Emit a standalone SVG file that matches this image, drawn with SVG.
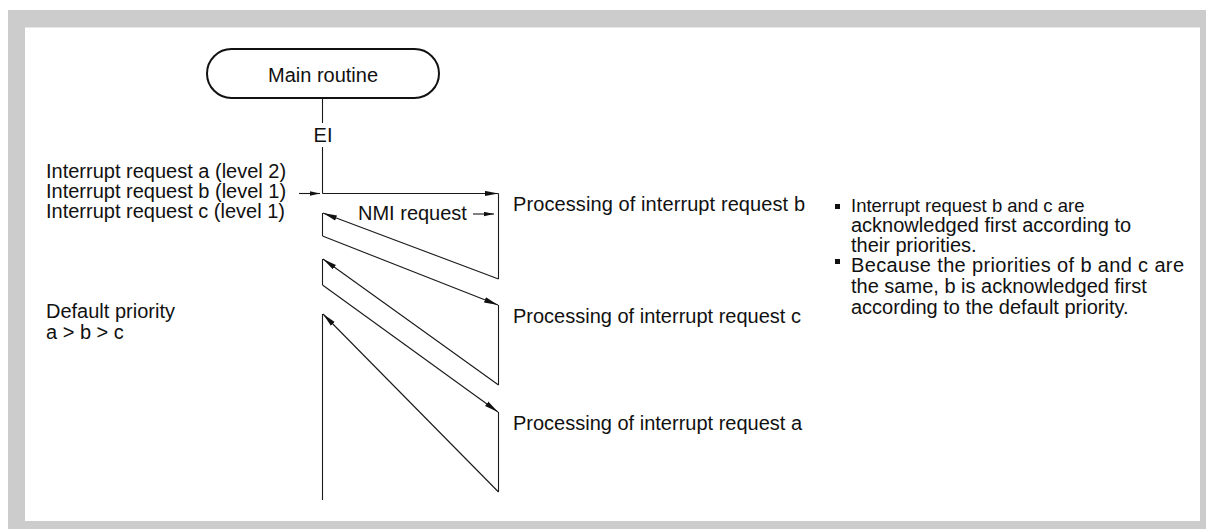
<svg xmlns="http://www.w3.org/2000/svg" width="1206" height="529" viewBox="0 0 1206 529">
<style>
text{font-family:"Liberation Sans",Arial,Helvetica,sans-serif;font-size:20px;fill:#111}
.ln{stroke:#1a1a1a;stroke-width:1.1;fill:none}
.ar{marker-end:url(#ah)}
.sa{marker-end:url(#sh)}
</style>
<defs>
<marker id="ah" markerUnits="userSpaceOnUse" viewBox="0 0 14 6" refX="14" refY="3" markerWidth="14" markerHeight="6" orient="auto"><path d="M0,0.3 L14,3 L0,5.7 Z" fill="#111"/></marker>
<marker id="sh" markerUnits="userSpaceOnUse" viewBox="0 0 10 5" refX="10" refY="2.5" markerWidth="10" markerHeight="5" orient="auto"><path d="M0,0.3 L10,2.5 L0,4.7 Z" fill="#111"/></marker>
</defs>
<rect x="8" y="10" width="1198" height="519" fill="#cccccc"/>
<rect x="25" y="27.5" width="1175" height="493.5" fill="#ffffff"/>
<g id="main-routine">
<rect x="207" y="49" width="232" height="49" rx="24.5" ry="24.5" fill="#fff" stroke="#111" stroke-width="2"/>
<text x="323" y="82" text-anchor="middle">Main routine</text>
</g>
<g id="connectors">
<path class="ln" d="M322.5,98 V123"/>
<path class="ln" d="M322.5,147 V193.5"/>
<path class="ln ar" d="M322.5,193.5 H498.5"/>
<path class="ln" d="M498.5,193.5 V279"/>
<path class="ln ar" d="M498.5,279 L323,213"/>
<path class="ln" d="M322.5,213 V236"/>
<path class="ln ar" d="M322.5,236 L498,305"/>
<path class="ln" d="M498.5,305 V385"/>
<path class="ln ar" d="M498.5,385 L323,259"/>
<path class="ln" d="M322.5,259 V285"/>
<path class="ln ar" d="M322.5,285 L498,412"/>
<path class="ln" d="M498.5,412 V492"/>
<path class="ln ar" d="M498.5,492 L323,314"/>
<path class="ln" d="M322.5,314 V500"/>
<path class="ln sa" d="M299,193.5 H320"/>
<path class="ln sa" d="M473,214 H494"/>
</g>
<g id="ei-label"><text x="323" y="142" text-anchor="middle">EI</text></g>
<g id="requests">
<text x="46" y="178">Interrupt request a (level 2)</text>
<text x="46" y="198">Interrupt request b (level 1)</text>
<text x="46" y="218">Interrupt request c (level 1)</text>
</g>
<g id="default-priority">
<text x="46" y="318">Default priority</text>
<text x="46" y="339">a &gt; b &gt; c</text>
</g>
<g id="nmi-label"><text x="358" y="220">NMI request</text></g>
<g id="proc-b"><text x="513" y="211" textLength="292">Processing of interrupt request b</text></g>
<g id="proc-c"><text x="513" y="323">Processing of interrupt request c</text></g>
<g id="proc-a"><text x="513" y="430">Processing of interrupt request a</text></g>
<g id="notes">
<rect x="835" y="204" width="5" height="5" fill="#111"/>
<text x="851" y="212" style="font-size:18.5px">Interrupt request b and c are</text>
<text x="851" y="232">acknowledged first according to</text>
<text x="851" y="252">their priorities.</text>
<rect x="835" y="259" width="5" height="5" fill="#111"/>
<text x="851" y="272" textLength="333">Because the priorities of b and c are</text>
<text x="851" y="293">the same, b is acknowledged first</text>
<text x="851" y="314">according to the default priority.</text>
</g>
</svg>
